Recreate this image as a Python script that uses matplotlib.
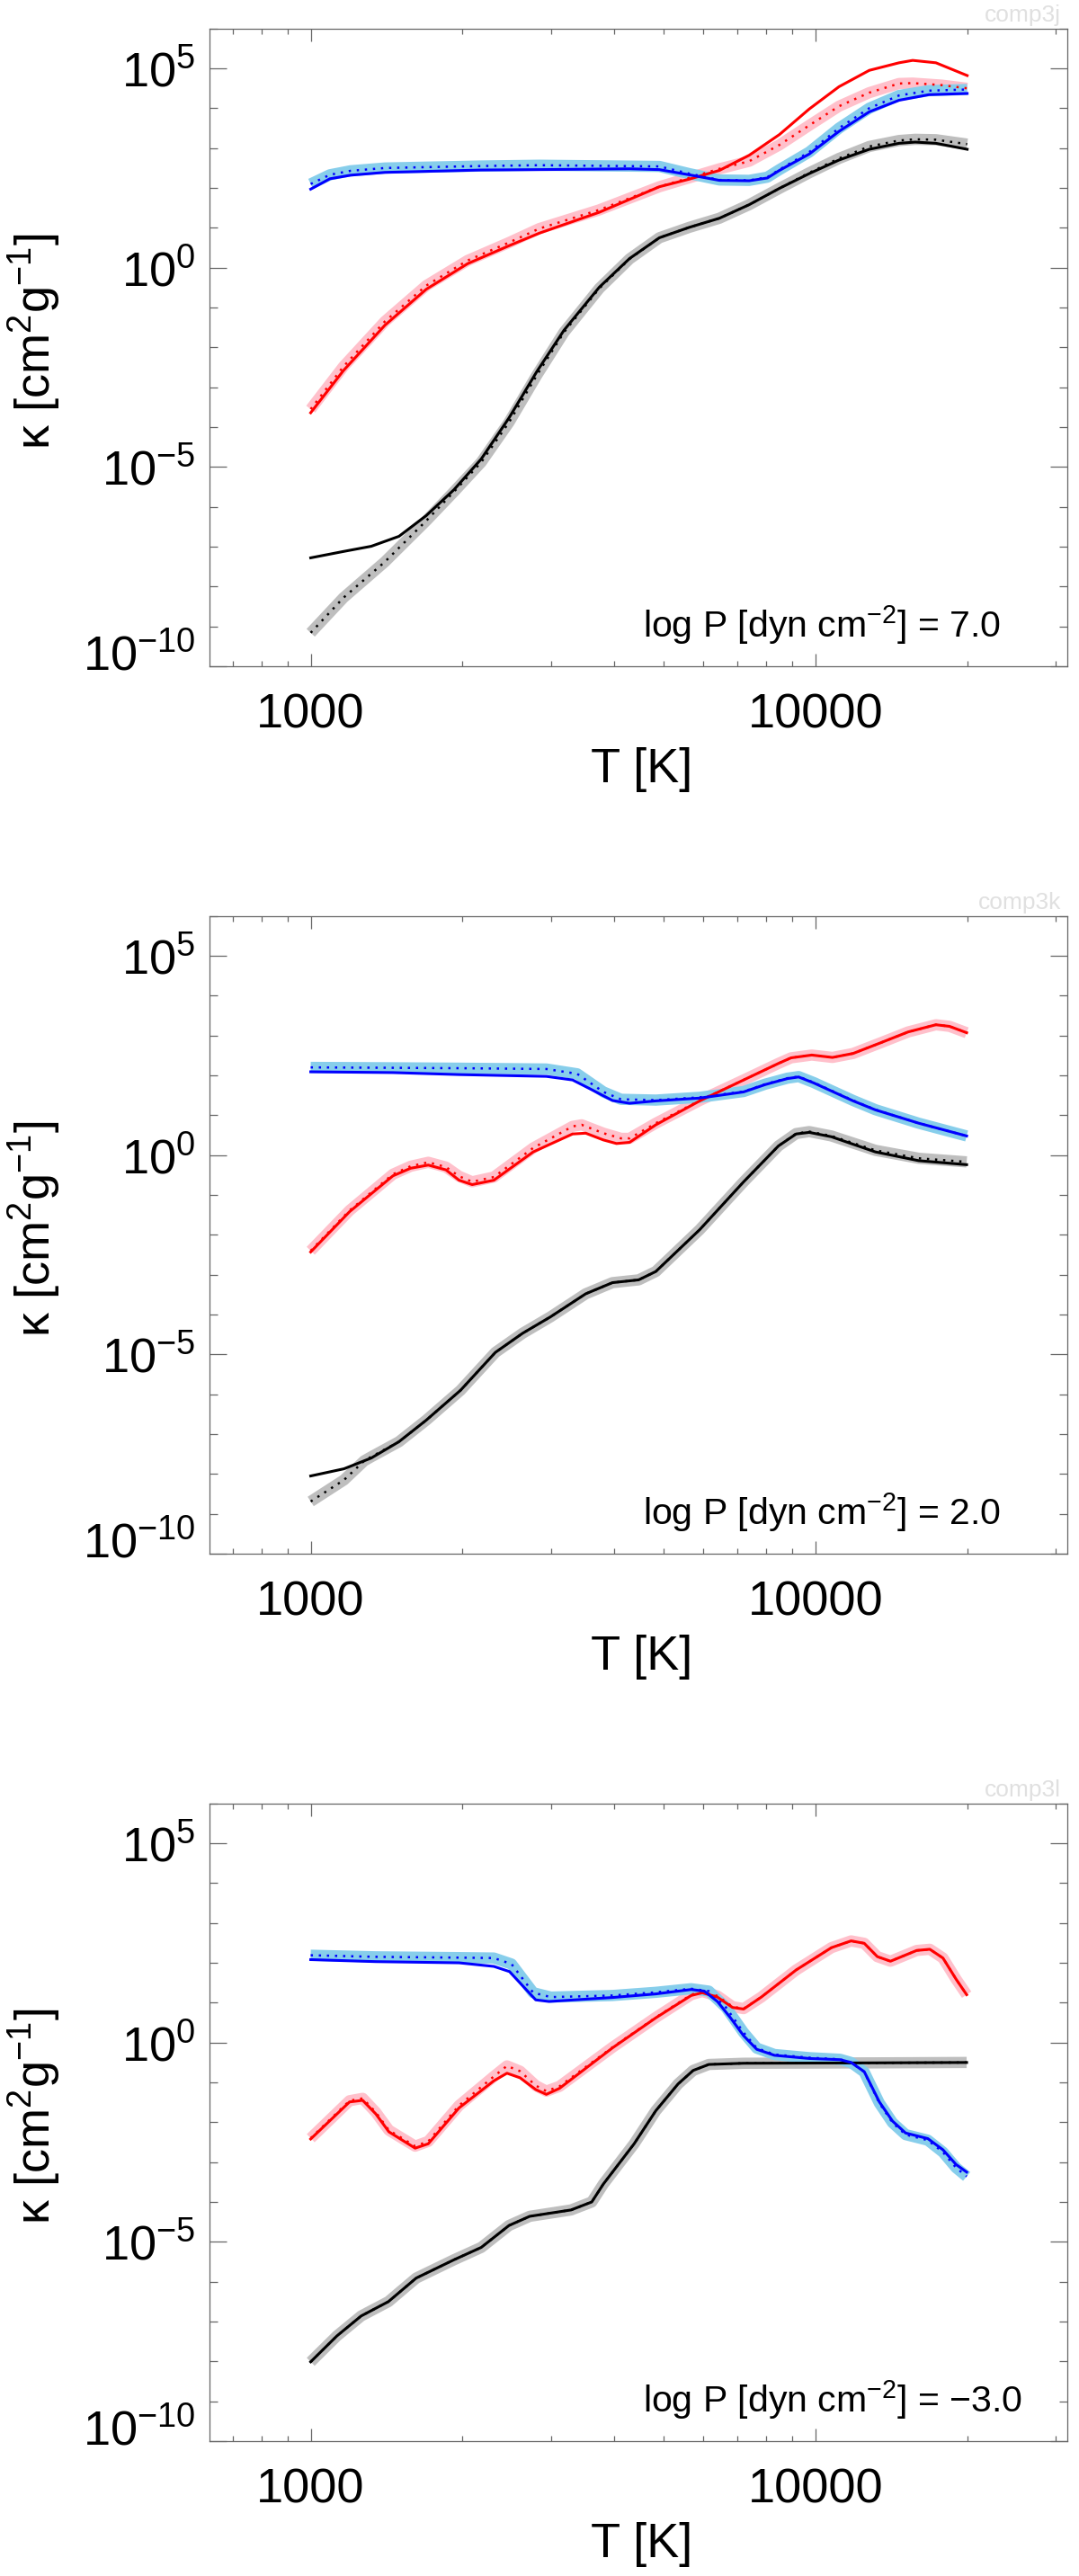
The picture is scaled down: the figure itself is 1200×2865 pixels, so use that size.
import numpy as np
import matplotlib
matplotlib.use('Agg')
import matplotlib.pyplot as plt
from matplotlib.ticker import FixedLocator, FixedFormatter, NullFormatter
import matplotlib.transforms as mtransforms

plt.rcParams['font.family'] = ['Liberation Sans', 'DejaVu Sans']
plt.rcParams['mathtext.fontset'] = 'custom'
plt.rcParams['mathtext.rm'] = 'Liberation Sans'
plt.rcParams['mathtext.it'] = 'Liberation Sans:italic'
plt.rcParams['mathtext.default'] = 'regular'

# ---- data: log10 T [K] and log10 kappa [cm^2/g] ----
# panel 1, log P = 7.0
lt1_red = [3.000, 3.065, 3.147, 3.229, 3.311, 3.393, 3.453, 3.572, 3.691, 3.750, 3.810,
           3.869, 3.929, 3.988, 4.047, 4.107, 4.166, 4.193, 4.239, 4.301]
lk1_red = [-3.64, -2.58, -1.445, -0.542, 0.10, 0.55, 0.865, 1.39, 2.03, 2.22, 2.44,
           2.82, 3.34, 3.98, 4.54, 4.95, 5.14, 5.20, 5.14, 4.82]
lt1_red_dot = [3.000, 3.065, 3.147, 3.229, 3.311, 3.393, 3.453, 3.572, 3.691, 3.810, 3.869,
               3.929, 3.988, 4.047, 4.107, 4.166, 4.193, 4.250, 4.301]
lk1_red_dot = [-3.55, -2.48, -1.35, -0.45, 0.18, 0.63, 0.98, 1.45, 2.03, 2.48, 2.67,
               3.08, 3.57, 4.05, 4.39, 4.62, 4.63, 4.58, 4.50]
lt1_blue = [3.000, 3.038, 3.079, 3.147, 3.338, 3.453, 3.632, 3.691, 3.750, 3.810, 3.869,
            3.905, 3.929, 3.988, 4.047, 4.107, 4.166, 4.225, 4.301]
lk1_blue = [1.97, 2.23, 2.32, 2.39, 2.45, 2.46, 2.48, 2.46, 2.33, 2.19, 2.18,
            2.25, 2.44, 2.85, 3.42, 3.91, 4.20, 4.34, 4.37]
lt1_blue_dot = [3.000, 3.038, 3.079, 3.147, 3.338, 3.453, 3.691, 3.750, 3.810, 3.869,
                3.905, 3.929, 3.988, 4.047, 4.107, 4.166, 4.225, 4.301]
lk1_blue_dot = [2.10, 2.33, 2.43, 2.50, 2.55, 2.57, 2.54, 2.36, 2.20, 2.19,
                2.27, 2.46, 2.90, 3.50, 4.00, 4.32, 4.44, 4.47]
lt1_black = [3.000, 3.065, 3.120, 3.175, 3.229, 3.284, 3.338, 3.393, 3.448, 3.502, 3.572,
             3.632, 3.691, 3.750, 3.810, 3.869, 3.929, 3.988, 4.047, 4.107, 4.166,
             4.198, 4.239, 4.301]
lk1_black = [-7.28, -7.12, -6.99, -6.74, -6.22, -5.57, -4.80, -3.77, -2.61, -1.57, -0.49,
             0.23, 0.75, 1.01, 1.24, 1.58, 1.99, 2.36, 2.70, 2.97, 3.12,
             3.15, 3.12, 2.97]
lt1_black_dot = [3.000, 3.065, 3.147, 3.229, 3.284, 3.338, 3.393, 3.448, 3.502, 3.572,
                 3.632, 3.691, 3.750, 3.810, 3.869, 3.929, 3.988, 4.047, 4.107, 4.166,
                 4.198, 4.239, 4.301]
lk1_black_dot = [-9.16, -8.28, -7.38, -6.35, -5.62, -4.88, -3.88, -2.70, -1.62, -0.52,
                 0.22, 0.75, 1.01, 1.24, 1.58, 1.99, 2.38, 2.74, 3.04, 3.19,
                 3.22, 3.21, 3.10]

# panel 2, log P = 2.0
lt2_red = [3.000, 3.077, 3.163, 3.198, 3.233, 3.268, 3.294, 3.320, 3.363, 3.441, 3.519,
           3.545, 3.580, 3.606, 3.632, 3.684, 3.771, 3.858, 3.927, 3.952, 3.993,
           4.034, 4.075, 4.130, 4.184, 4.239, 4.266, 4.300]
lk2_red = [-2.43, -1.42, -0.52, -0.33, -0.25, -0.37, -0.63, -0.74, -0.63, 0.08, 0.53,
           0.55, 0.38, 0.29, 0.32, 0.76, 1.36, 1.885, 2.30, 2.44, 2.51,
           2.45, 2.55, 2.82, 3.09, 3.27, 3.23, 3.07]
lt2_red_dot = [3.000, 3.077, 3.163, 3.198, 3.233, 3.268, 3.294, 3.320, 3.363, 3.441, 3.519,
               3.537, 3.580, 3.615, 3.632, 3.684, 3.771, 3.858, 3.927, 3.952, 3.993,
               4.034, 4.075, 4.130, 4.184, 4.239, 4.266, 4.300]
lk2_red_dot = [-2.40, -1.39, -0.48, -0.28, -0.18, -0.30, -0.53, -0.67, -0.55, 0.18, 0.72,
               0.76, 0.55, 0.42, 0.42, 0.80, 1.37, 1.885, 2.30, 2.44, 2.51,
               2.45, 2.55, 2.82, 3.09, 3.27, 3.23, 3.07]
lt2_blue = [3.000, 3.163, 3.294, 3.467, 3.519, 3.554, 3.598, 3.632, 3.684, 3.771, 3.858,
            3.901, 3.945, 3.967, 3.997, 4.075, 4.119, 4.205, 4.300]
lk2_blue = [2.09, 2.07, 2.02, 1.975, 1.885, 1.66, 1.37, 1.30, 1.36, 1.43, 1.585,
            1.77, 1.92, 1.96, 1.81, 1.36, 1.135, 0.80, 0.48]
lt2_blue_dot = [3.000, 3.163, 3.294, 3.467, 3.528, 3.580, 3.615, 3.684, 3.771, 3.858,
                3.901, 3.945, 3.967, 3.997, 4.075, 4.119, 4.205, 4.300]
lk2_blue_dot = [2.20, 2.19, 2.18, 2.16, 2.04, 1.585, 1.40, 1.38, 1.45, 1.595,
                1.78, 1.93, 1.97, 1.82, 1.37, 1.14, 0.80, 0.48]
lt2_black = [3.000, 3.066, 3.120, 3.175, 3.229, 3.297, 3.366, 3.420, 3.475, 3.545, 3.598,
             3.650, 3.684, 3.771, 3.858, 3.927, 3.962, 3.988, 4.032, 4.119, 4.205,
             4.300]
lk2_black = [-8.05, -7.87, -7.60, -7.19, -6.65, -5.90, -4.95, -4.47, -4.06, -3.48, -3.20,
             -3.13, -2.92, -1.87, -0.67, 0.23, 0.53, 0.57, 0.46, 0.08, -0.14,
             -0.24]
lt2_black_dot = [3.000, 3.066, 3.106, 3.120, 3.175, 3.229, 3.297, 3.366, 3.420, 3.475,
                 3.545, 3.598, 3.650, 3.684, 3.771, 3.858, 3.927, 3.962, 3.988, 4.032,
                 4.119, 4.205, 4.300]
lk2_black_dot = [-8.69, -8.15, -7.67, -7.57, -7.19, -6.65, -5.90, -4.95, -4.47, -4.06,
                 -3.48, -3.20, -3.13, -2.92, -1.87, -0.67, 0.23, 0.54, 0.59, 0.48,
                 0.12, -0.08, -0.17]

# panel 3, log P = -3.0
lt3_red = [3.000, 3.077, 3.103, 3.129, 3.155, 3.207, 3.233, 3.294, 3.363, 3.389, 3.415,
           3.446, 3.467, 3.493, 3.598, 3.684, 3.754, 3.776, 3.806, 3.836, 3.858,
           3.893, 3.962, 4.032, 4.071, 4.097, 4.123, 4.149, 4.201, 4.227, 4.253,
           4.279, 4.300]
lk3_red = [-2.42, -1.49, -1.45, -1.79, -2.24, -2.65, -2.54, -1.64, -0.96, -0.77, -0.885,
           -1.18, -1.30, -1.15, -0.135, 0.62, 1.18, 1.25, 1.14, 0.88, 0.84,
           1.14, 1.82, 2.38, 2.55, 2.49, 2.155, 2.04, 2.31, 2.34, 2.12,
           1.59, 1.20]
lt3_red_dot = [3.000, 3.077, 3.103, 3.129, 3.155, 3.207, 3.233, 3.294, 3.363, 3.389, 3.415,
               3.446, 3.467, 3.493, 3.598, 3.684, 3.754, 3.776, 3.806, 3.836, 3.858,
               3.893, 3.962, 4.032, 4.071, 4.097, 4.123, 4.149, 4.201, 4.227, 4.253,
               4.279, 4.300]
lk3_red_dot = [-2.40, -1.46, -1.40, -1.75, -2.20, -2.60, -2.48, -1.58, -0.85, -0.585, -0.72,
               -1.08, -1.22, -1.10, -0.12, 0.63, 1.20, 1.28, 1.17, 0.90, 0.85,
               1.14, 1.82, 2.38, 2.55, 2.49, 2.155, 2.04, 2.31, 2.34, 2.12,
               1.59, 1.20]
lt3_blue = [3.000, 3.129, 3.294, 3.363, 3.394, 3.424, 3.446, 3.472, 3.598, 3.684, 3.754,
            3.780, 3.806, 3.832, 3.858, 3.884, 3.919, 3.988, 4.049, 4.071, 4.097,
            4.127, 4.153, 4.179, 4.223, 4.253, 4.279, 4.300]
lk3_blue = [2.08, 2.03, 2.00, 1.91, 1.78, 1.37, 1.07, 1.03, 1.13, 1.22, 1.33,
            1.29, 1.03, 0.62, 0.17, -0.17, -0.32, -0.40, -0.43, -0.50, -0.73,
            -1.49, -1.97, -2.27, -2.41, -2.69, -3.06, -3.25]
lt3_blue_dot = [3.000, 3.129, 3.294, 3.363, 3.398, 3.441, 3.476, 3.598, 3.684, 3.754,
                3.789, 3.823, 3.858, 3.884, 3.919, 3.988, 4.049, 4.071, 4.097, 4.127,
                4.153, 4.179, 4.223, 4.253, 4.279, 4.300]
lk3_blue_dot = [2.19, 2.15, 2.13, 2.12, 1.97, 1.25, 1.14, 1.18, 1.26, 1.35,
                1.29, 0.88, 0.25, -0.14, -0.30, -0.38, -0.42, -0.50, -0.74, -1.52,
                -2.01, -2.31, -2.45, -2.75, -3.14, -3.36]
lt3_black = [3.000, 3.052, 3.100, 3.154, 3.209, 3.284, 3.338, 3.393, 3.434, 3.516, 3.557,
             3.580, 3.641, 3.684, 3.728, 3.758, 3.789, 3.858, 4.119, 4.300]
lk3_black = [-8.01, -7.36, -6.86, -6.50, -5.91, -5.45, -5.14, -4.59, -4.36, -4.20, -4.00,
             -3.55, -2.54, -1.71, -1.04, -0.70, -0.55, -0.52, -0.51, -0.50]
lt3_black_dot = lt3_black
lk3_black_dot = lk3_black

pressure_labels = ['log P [dyn cm$^{-2}$] = 7.0',
                   'log P [dyn cm$^{-2}$] = 2.0',
                   'log P [dyn cm$^{-2}$] = \u22123.0']
tags = ['comp3j', 'comp3k', 'comp3l']

panels = [
    dict(red=(lt1_red, lk1_red), red_dot=(lt1_red_dot, lk1_red_dot),
         blue=(lt1_blue, lk1_blue), blue_dot=(lt1_blue_dot, lk1_blue_dot),
         black=(lt1_black, lk1_black), black_dot=(lt1_black_dot, lk1_black_dot)),
    dict(red=(lt2_red, lk2_red), red_dot=(lt2_red_dot, lk2_red_dot),
         blue=(lt2_blue, lk2_blue), blue_dot=(lt2_blue_dot, lk2_blue_dot),
         black=(lt2_black, lk2_black), black_dot=(lt2_black_dot, lk2_black_dot)),
    dict(red=(lt3_red, lk3_red), red_dot=(lt3_red_dot, lk3_red_dot),
         blue=(lt3_blue, lk3_blue), blue_dot=(lt3_blue_dot, lk3_blue_dot),
         black=(lt3_black, lk3_black), black_dot=(lt3_black_dot, lk3_black_dot)),
]

W, H = 1200, 2865
fig = plt.figure(figsize=(W / 100, H / 100), dpi=100)

axcol = '#666666'
fs = 39
dot = (0, (1, 2.6))
band = 9


def xy(pair):
    lt, lk = pair
    return 10 ** np.asarray(lt), 10 ** np.asarray(lk)


axes = []
for i, p in enumerate(panels):
    top = 31.7 + 987 * i
    bot = 741 + 987 * i
    ax = fig.add_axes([233.3 / W, 1 - bot / H, 954 / W, (bot - top) / H])
    axes.append(ax)

    # thick model bands underneath
    ax.plot(*xy(p['black_dot']), color='#bebebe', lw=band, solid_capstyle='butt',
            solid_joinstyle='round', zorder=1)
    ax.plot(*xy(p['red_dot']), color='#ffc0cb', lw=band, solid_capstyle='butt',
            solid_joinstyle='round', zorder=1)
    ax.plot(*xy(p['blue_dot']), color='#87ceeb', lw=band, solid_capstyle='butt',
            solid_joinstyle='round', zorder=1)
    # dotted
    ax.plot(*xy(p['black_dot']), color='black', lw=1.8, ls=dot, zorder=2)
    ax.plot(*xy(p['red_dot']), color='red', lw=1.8, ls=dot, zorder=2)
    ax.plot(*xy(p['blue_dot']), color='blue', lw=1.8, ls=dot, zorder=2)
    # solid
    ax.plot(*xy(p['black']), color='black', lw=2.2, zorder=3)
    ax.plot(*xy(p['red']), color='red', lw=2.2, zorder=3)
    ax.plot(*xy(p['blue']), color='blue', lw=2.2, zorder=3)

    ax.set_xscale('log')
    ax.set_yscale('log')
    ax.set_xlim(10 ** 2.8, 10 ** 4.5)
    ax.set_ylim(1e-10, 1e6)

    ax.xaxis.set_major_locator(FixedLocator([1000, 10000]))
    ax.xaxis.set_major_formatter(FixedFormatter(['1000', '10000']))
    ax.xaxis.set_minor_locator(FixedLocator([700, 800, 900] + list(range(2000, 10000, 1000)) + [20000, 30000]))
    ax.xaxis.set_minor_formatter(NullFormatter())
    ax.yaxis.set_major_locator(FixedLocator([1e-10, 1e-5, 1, 1e5]))
    ax.yaxis.set_major_formatter(FixedFormatter([r'$10^{-10}$', r'$10^{-5}$', r'$10^{0}$', r'$10^{5}$']))
    ax.yaxis.set_minor_locator(FixedLocator([10.0 ** e for e in range(-9, 7) if e % 5 != 0]))
    ax.yaxis.set_minor_formatter(NullFormatter())

    ax.tick_params(which='both', direction='in', top=True, right=True,
                   color=axcol, width=0.9, labelsize=fs)
    ax.tick_params(axis='x', which='major', length=10.3, pad=21.5)
    ax.tick_params(axis='x', which='minor', length=4.5)
    ax.tick_params(axis='y', which='major', length=13.7, pad=11.5)
    ax.tick_params(axis='y', which='minor', length=6.7)
    for s in ax.spines.values():
        s.set_color(axcol)
        s.set_linewidth(0.9)

    ax.set_xlabel('T [K]', fontsize=fs)
    ax.xaxis.set_label_coords(0.503, -0.127)
    ax.set_ylabel('\u03ba [cm$^2$g$^{-1}$]', fontsize=fs)
    ax.yaxis.set_label_coords(-0.172, 0.51)

    ax.text(0.505, 0.0458, pressure_labels[i], transform=ax.transAxes,
            fontsize=29.5, ha='left', va='baseline')
    fig.text(1180 / W, 1 - (17 + 987 * i) / H, tags[i], ha='right', va='center',
             color='#e0e0e0', fontsize=19)

fig.canvas.draw()
shift = mtransforms.ScaledTranslation(0, 16 / 100, fig.dpi_scale_trans)
for ax in axes:
    lab = ax.yaxis.get_major_ticks()[0].label1
    lab.set_transform(lab.get_transform() + shift)

fig.savefig('out.png', dpi=100)
